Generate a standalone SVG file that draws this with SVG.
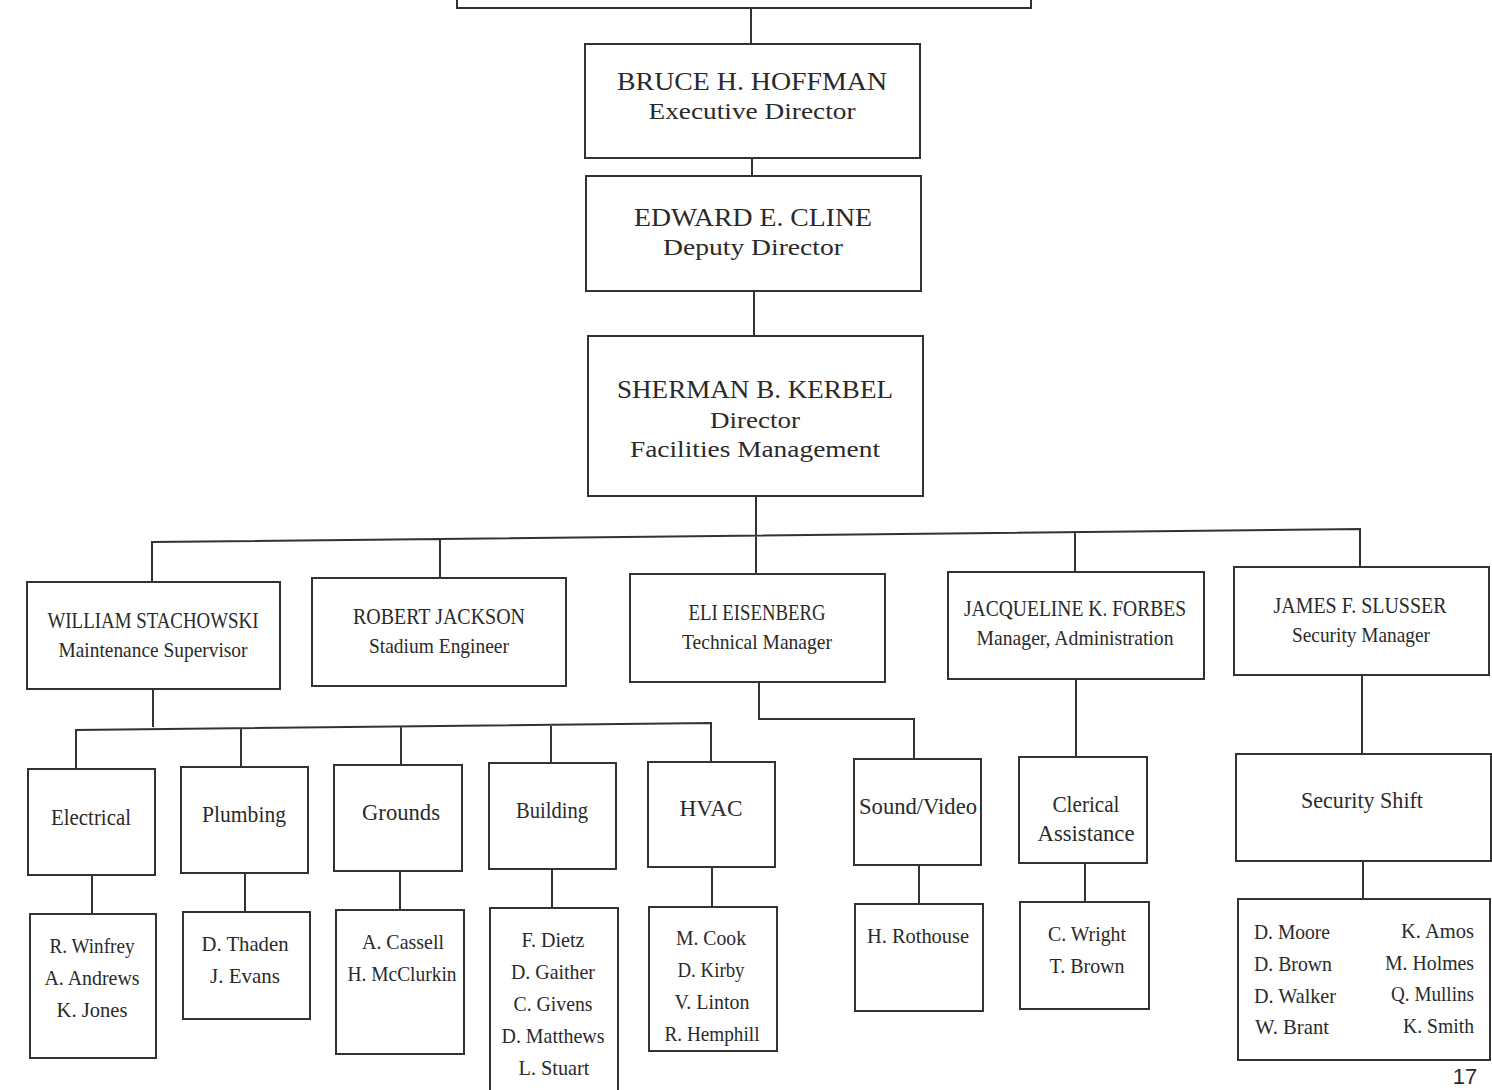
<svg xmlns="http://www.w3.org/2000/svg" width="1492" height="1090" viewBox="0 0 1492 1090">
<style>
.box{fill:#fff;stroke:#333;stroke-width:2}
.ln{fill:none;stroke:#333;stroke-width:2}
text{font-family:"Liberation Serif",serif;fill:#2a2a2a;text-anchor:middle}
.t1{font-size:26px}
.t1s{font-size:24px}
.t2{font-size:23px}
.t2s{font-size:21px}
.t3{font-size:23px}
.t4{font-size:22px}
.l{text-anchor:start}
.r{text-anchor:end}
</style>
<rect width="1492" height="1090" fill="#fff"/>
<g id="connectors">
<path class="ln" d="M751 8V44M752 158V176M754 291V336"/>
<path class="ln" d="M756 496V574M152 582V542L1360 529V568M440 578V540M1075 573V531"/>
<path class="ln" d="M153 689V727M76 769V730L711 723V762M241 767V728M401 765V727M551 763V725"/>
<path class="ln" d="M759 682V719H914V759M1076 679V757M1362 675V754"/>
<path class="ln" d="M92 875V914M245 873V912M400 871V910M552 869V908M712 867V907M919 865V904M1085 863V902M1363 861V899"/>
</g>
<g id="top"><rect class="box" x="457" y="-20" width="574" height="28"/></g>
<g id="hoffman"><rect class="box" x="585" y="44" width="335" height="114"/>
<text class="t1" x="752" y="90" textLength="270" lengthAdjust="spacingAndGlyphs">BRUCE H. HOFFMAN</text>
<text class="t1s" x="752" y="119" textLength="207" lengthAdjust="spacingAndGlyphs">Executive Director</text></g>
<g id="cline"><rect class="box" x="586" y="176" width="335" height="115"/>
<text class="t1" x="753" y="226" textLength="238" lengthAdjust="spacingAndGlyphs">EDWARD E. CLINE</text>
<text class="t1s" x="753" y="255" textLength="180" lengthAdjust="spacingAndGlyphs">Deputy Director</text></g>
<g id="kerbel"><rect class="box" x="588" y="336" width="335" height="160"/>
<text class="t1" x="755" y="398" textLength="276" lengthAdjust="spacingAndGlyphs">SHERMAN B. KERBEL</text>
<text class="t1s" x="755" y="428" textLength="90" lengthAdjust="spacingAndGlyphs">Director</text>
<text class="t1s" x="755" y="457" textLength="250" lengthAdjust="spacingAndGlyphs">Facilities Management</text></g>
<g id="stachowski"><rect class="box" x="27" y="582" width="253" height="107"/>
<text class="t2" x="153" y="628" textLength="211" lengthAdjust="spacingAndGlyphs">WILLIAM STACHOWSKI</text>
<text class="t2s" x="153" y="657" textLength="189" lengthAdjust="spacingAndGlyphs">Maintenance Supervisor</text></g>
<g id="jackson"><rect class="box" x="312" y="578" width="254" height="108"/>
<text class="t2" x="439" y="624" textLength="172" lengthAdjust="spacingAndGlyphs">ROBERT JACKSON</text>
<text class="t2s" x="439" y="653" textLength="140" lengthAdjust="spacingAndGlyphs">Stadium Engineer</text></g>
<g id="eisenberg"><rect class="box" x="630" y="574" width="255" height="108"/>
<text class="t2" x="757" y="620" textLength="137" lengthAdjust="spacingAndGlyphs">ELI EISENBERG</text>
<text class="t2s" x="757" y="649" textLength="150" lengthAdjust="spacingAndGlyphs">Technical Manager</text></g>
<g id="forbes"><rect class="box" x="948" y="572" width="256" height="107"/>
<text class="t2" x="1075" y="616" textLength="222" lengthAdjust="spacingAndGlyphs">JACQUELINE K. FORBES</text>
<text class="t2s" x="1075" y="645" textLength="197" lengthAdjust="spacingAndGlyphs">Manager, Administration</text></g>
<g id="slusser"><rect class="box" x="1234" y="567" width="255" height="108"/>
<text class="t2" x="1360" y="613" textLength="173" lengthAdjust="spacingAndGlyphs">JAMES F. SLUSSER</text>
<text class="t2s" x="1361" y="642" textLength="138" lengthAdjust="spacingAndGlyphs">Security Manager</text></g>
<g id="electrical"><rect class="box" x="28" y="769" width="127" height="106"/>
<text class="t3" x="91" y="825" textLength="80" lengthAdjust="spacingAndGlyphs">Electrical</text></g>
<g id="plumbing"><rect class="box" x="181" y="767" width="127" height="106"/>
<text class="t3" x="244" y="822" textLength="84" lengthAdjust="spacingAndGlyphs">Plumbing</text></g>
<g id="grounds"><rect class="box" x="334" y="765" width="128" height="106"/>
<text class="t3" x="401" y="820" textLength="78" lengthAdjust="spacingAndGlyphs">Grounds</text></g>
<g id="building"><rect class="box" x="489" y="763" width="127" height="106"/>
<text class="t3" x="552" y="818" textLength="72" lengthAdjust="spacingAndGlyphs">Building</text></g>
<g id="hvac"><rect class="box" x="648" y="762" width="127" height="105"/>
<text class="t3" x="711" y="816" textLength="63" lengthAdjust="spacingAndGlyphs">HVAC</text></g>
<g id="soundvideo"><rect class="box" x="854" y="759" width="127" height="106"/>
<text class="t3" x="918" y="814" textLength="118" lengthAdjust="spacingAndGlyphs">Sound/Video</text></g>
<g id="clerical"><rect class="box" x="1019" y="757" width="128" height="106"/>
<text class="t3" x="1086" y="812" textLength="67" lengthAdjust="spacingAndGlyphs">Clerical</text>
<text class="t3" x="1086" y="841" textLength="97" lengthAdjust="spacingAndGlyphs">Assistance</text></g>
<g id="securityshift"><rect class="box" x="1236" y="754" width="255" height="107"/>
<text class="t3" x="1362" y="808" textLength="122" lengthAdjust="spacingAndGlyphs">Security Shift</text></g>
<g id="electrical-staff"><rect class="box" x="30" y="914" width="126" height="144"/>
<text class="t4" x="92" y="953" textLength="85" lengthAdjust="spacingAndGlyphs">R. Winfrey</text>
<text class="t4" x="92" y="985" textLength="95" lengthAdjust="spacingAndGlyphs">A. Andrews</text>
<text class="t4" x="92" y="1017" textLength="71" lengthAdjust="spacingAndGlyphs">K. Jones</text></g>
<g id="plumbing-staff"><rect class="box" x="183" y="912" width="127" height="107"/>
<text class="t4" x="245" y="951" textLength="87" lengthAdjust="spacingAndGlyphs">D. Thaden</text>
<text class="t4" x="245" y="983" textLength="70" lengthAdjust="spacingAndGlyphs">J. Evans</text></g>
<g id="grounds-staff"><rect class="box" x="336" y="910" width="128" height="144"/>
<text class="t4" x="403" y="949" textLength="82" lengthAdjust="spacingAndGlyphs">A. Cassell</text>
<text class="t4" x="402" y="981" textLength="109" lengthAdjust="spacingAndGlyphs">H. McClurkin</text></g>
<g id="building-staff"><rect class="box" x="490" y="908" width="128" height="190"/>
<text class="t4" x="553" y="947" textLength="63" lengthAdjust="spacingAndGlyphs">F. Dietz</text>
<text class="t4" x="553" y="979" textLength="84" lengthAdjust="spacingAndGlyphs">D. Gaither</text>
<text class="t4" x="553" y="1011" textLength="79" lengthAdjust="spacingAndGlyphs">C. Givens</text>
<text class="t4" x="553" y="1043" textLength="103" lengthAdjust="spacingAndGlyphs">D. Matthews</text>
<text class="t4" x="554" y="1075" textLength="71" lengthAdjust="spacingAndGlyphs">L. Stuart</text></g>
<g id="hvac-staff"><rect class="box" x="649" y="907" width="128" height="144"/>
<text class="t4" x="711" y="945" textLength="70" lengthAdjust="spacingAndGlyphs">M. Cook</text>
<text class="t4" x="711" y="977" textLength="67" lengthAdjust="spacingAndGlyphs">D. Kirby</text>
<text class="t4" x="712" y="1009" textLength="75" lengthAdjust="spacingAndGlyphs">V. Linton</text>
<text class="t4" x="712" y="1041" textLength="95" lengthAdjust="spacingAndGlyphs">R. Hemphill</text></g>
<g id="soundvideo-staff"><rect class="box" x="855" y="904" width="128" height="107"/>
<text class="t4" x="918" y="943" textLength="102" lengthAdjust="spacingAndGlyphs">H. Rothouse</text></g>
<g id="clerical-staff"><rect class="box" x="1020" y="902" width="129" height="107"/>
<text class="t4" x="1087" y="941" textLength="78" lengthAdjust="spacingAndGlyphs">C. Wright</text>
<text class="t4" x="1087" y="973" textLength="75" lengthAdjust="spacingAndGlyphs">T. Brown</text></g>
<g id="security-staff"><rect class="box" x="1238" y="899" width="252" height="161"/>
<text class="t4 l" x="1254" y="939" textLength="76" lengthAdjust="spacingAndGlyphs">D. Moore</text>
<text class="t4 l" x="1254" y="971" textLength="78" lengthAdjust="spacingAndGlyphs">D. Brown</text>
<text class="t4 l" x="1254" y="1003" textLength="82" lengthAdjust="spacingAndGlyphs">D. Walker</text>
<text class="t4 l" x="1255" y="1034" textLength="74" lengthAdjust="spacingAndGlyphs">W. Brant</text>
<text class="t4 r" x="1474" y="938" textLength="73" lengthAdjust="spacingAndGlyphs">K. Amos</text>
<text class="t4 r" x="1474" y="970" textLength="89" lengthAdjust="spacingAndGlyphs">M. Holmes</text>
<text class="t4 r" x="1474" y="1001" textLength="83" lengthAdjust="spacingAndGlyphs">Q. Mullins</text>
<text class="t4 r" x="1474" y="1033" textLength="71" lengthAdjust="spacingAndGlyphs">K. Smith</text></g>
<text x="1465" y="1084" style="font-family:'Liberation Sans',sans-serif;font-size:22px">17</text>
</svg>
